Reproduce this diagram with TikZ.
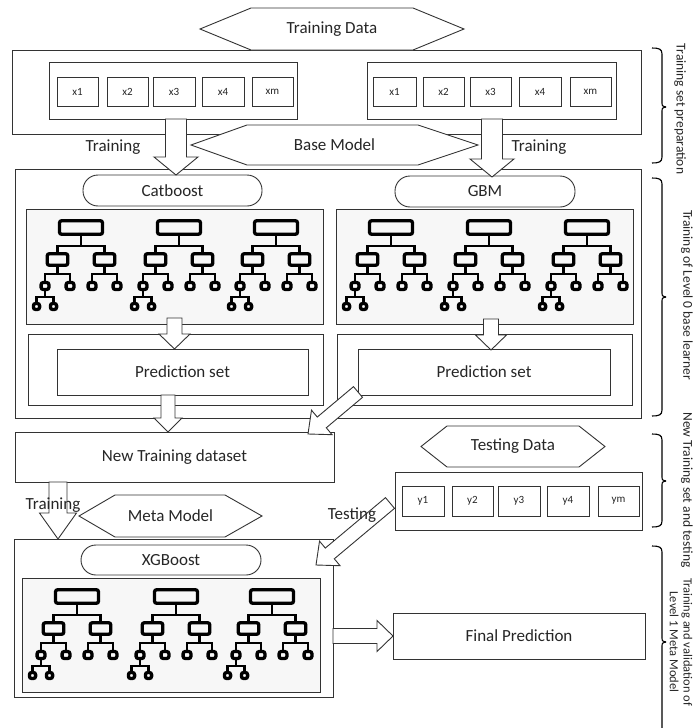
\documentclass[tikz,border=0pt]{standalone}
\usepackage{fontspec}
\setmainfont{Carlito}
\usetikzlibrary{calc}

\newcommand\mainsize{\fontsize{17}{20}\selectfont}
\newcommand\cellsize{\fontsize{11}{13}\selectfont}
\newcommand\sidesize{\fontsize{13.5}{17}\selectfont}
\newcommand\sidesmall{\fontsize{12.5}{13.8}\selectfont}

\tikzset{
  every node/.style={inner sep=0pt, outer sep=0pt, text=black!85},
  frame/.style={draw=black!80, line width=0.9pt},
  box/.style={frame, fill=white, font=\mainsize},
  panel/.style={frame, fill=black!3},
  cell/.style={box, font=\cellsize},
  capsule/.style={box, rounded corners=15pt},
  arrowbox/.style={draw=black!80, line width=0.9pt, fill=white, line join=miter},
  treebox/.style={draw=black, line width=3.3pt, rounded corners=2.2pt},
  treeline/.style={draw=black, line width=2.5pt},
  bracepath/.style={draw=black, line width=1.1pt},
  sidelabel/.style={rotate=-90, font=\sidesize, align=center},
  tree/.pic={
    % root
    \draw[treebox] (-21.5,1.7) rectangle (21.5,15.3);
    \draw[treeline] (0,15.3) -- (0,27);
    \draw[treeline] (-23.5,34.5) -- (-23.5,27) -- (23.5,27) -- (23.5,34.5);
    % second level
    \foreach \c in {-23.5,23.5}{
      \draw[treebox] (\c-10.3,34.7) rectangle (\c+10.3,46.3);
      \draw[treeline] (\c,46.3) -- (\c,55);
      \draw[treeline] (\c-12.5,63) -- (\c-12.5,55) -- (\c+12.5,55) -- (\c+12.5,63);
      \foreach \d in {-12.5,12.5}{
        \draw[treebox] (\c+\d-3.9,63.5) rectangle (\c+\d+3.9,70.5);
      }
    }
    % fourth level under the leftmost leaf
    \draw[treeline] (-36,70.5) -- (-36,78);
    \draw[treeline] (-44.5,84.3) -- (-44.5,78) -- (-27.5,78) -- (-27.5,84.3);
    \foreach \e in {-44.5,-27.5}{
      \draw[treebox] (\e-3.1,84.5) rectangle (\e+3.1,90.5);
    }
  }
}

% [style]{name}{x1}{y1}{x2}{y2}{text}
\newcommand\rectnode[7][box]{%
  \pgfmathsetmacro\rw{#5-#3}\pgfmathsetmacro\rh{#6-#4}%
  \pgfmathsetmacro\rcx{(#3+#5)/2}\pgfmathsetmacro\rcy{(#4+#6)/2}%
  \node[#1, minimum width=\rw pt, minimum height=\rh pt] (#2) at (\rcx,\rcy) {#7};}

% {name}{left tip}{top-left x}{top-right x}{right tip}{top y}{bottom y}{text}
\newcommand\hexnode[8]{%
  \pgfmathsetmacro\hym{(#6+#7)/2}\pgfmathsetmacro\hxm{(#2+#5)/2}%
  \draw[frame, fill=white] (#2,\hym) -- (#3,#6) -- (#4,#6) -- (#5,\hym) -- (#4,#7) -- (#3,#7) -- cycle;
  \node[font=\mainsize] (#1) at (\hxm,\hym) {#8};}

% {from}{to}{shaft half width}{head half width}{head length}
\newcommand\blockarrow[5]{%
  \coordinate (ban) at ($(#2)!#5!(#1)$);
  \draw[arrowbox] ($(#1)!#3!90:(#2)$) -- ($(ban)!#3!-90:(#1)$) -- ($(ban)!#4!-90:(#1)$)
    -- (#2) -- ($(ban)!#4!90:(#1)$) -- ($(ban)!#3!90:(#1)$) -- ($(#1)!#3!-90:(#2)$) -- cycle;}

% {top}{middle}{bottom}
\newcommand\sidebrace[3]{%
  \draw[bracepath] (652,#1) .. controls (659,#1) and (662,#1+1) .. (662,#1+6) -- (662,#2-5)
    .. controls (662,#2-1) .. (666,#2);
  \draw[bracepath] (666,#2) .. controls (662,#2+1) .. (662,#2+5) -- (662,#3-6)
    .. controls (662,#3-1) and (659,#3) .. (652,#3);}

\begin{document}
\begin{tikzpicture}[x=1pt,y=-1pt]
\useasboundingbox (0,0) rectangle (694,728);
\fill[white] (0,0) rectangle (694,728);

% ---------- training set preparation ----------
\rectnode{prep}{12}{50}{641}{134}{}
\hexnode{trainData}{200}{251}{413}{464}{8}{50}{Training Data}
\rectnode{setL}{49}{62}{297}{119}{}
\rectnode[cell]{xa1}{57}{77}{98}{106}{x1}
\rectnode[cell]{xa2}{107}{77}{148}{106}{x2}
\rectnode[cell]{xa3}{153}{77}{195}{106}{x3}
\rectnode[cell]{xa4}{202}{77}{244}{106}{x4}
\rectnode[cell]{xam}{252}{77}{293}{106}{xm}
\rectnode{setR}{367}{62}{616}{119}{}
\rectnode[cell]{xb1}{373}{77}{416}{106}{x1}
\rectnode[cell]{xb2}{423}{77}{464}{106}{x2}
\rectnode[cell]{xb3}{470}{77}{511}{106}{x3}
\rectnode[cell]{xb4}{519}{77}{561}{106}{x4}
\rectnode[cell]{xbm}{570}{77}{611}{106}{xm}

% ---------- level 0 base learners ----------
\rectnode{level0}{15}{169}{641}{418}{}
\hexnode{baseModel}{191}{247}{418}{478}{125}{165}{Base Model}
\rectnode[capsule]{catboost}{83}{175}{262}{206}{Catboost}
\rectnode[capsule]{gbm}{395}{176}{575}{207}{GBM}
\rectnode[panel]{treesL}{26}{209}{323}{324}{}
\rectnode[panel]{treesR}{336}{209}{633}{324}{}
\pic at (81,219) {tree};
\pic at (179,219) {tree};
\pic at (276,219) {tree};
\pic at (391,219) {tree};
\pic at (489,219) {tree};
\pic at (587,219) {tree};
\rectnode{predOutL}{28}{334}{323}{405}{}
\rectnode{predL}{57}{349}{308}{395}{Prediction set}
\rectnode{predOutR}{337}{334}{632}{405}{}
\rectnode{predR}{358}{349}{610}{395}{Prediction set}

\coordinate (a1s) at (176,119);  \coordinate (a1e) at (176,175);
\coordinate (a2s) at (492,119);  \coordinate (a2e) at (492,177);
\blockarrow{a1s}{a1e}{10.5pt}{22pt}{18pt}
\blockarrow{a2s}{a2e}{10.5pt}{22pt}{18pt}
\coordinate (a3s) at (174.5,318); \coordinate (a3e) at (174.5,349);
\coordinate (a4s) at (491,319);   \coordinate (a4e) at (491,350);
\blockarrow{a3s}{a3e}{7.5pt}{15.5pt}{15pt}
\blockarrow{a4s}{a4e}{7.5pt}{15.5pt}{15pt}

% ---------- new training set and testing ----------
\rectnode{newTrain}{15}{432}{334}{482}{New Training dataset}
\coordinate (a5s) at (168,395); \coordinate (a5e) at (168,432);
\blockarrow{a5s}{a5e}{7pt}{14pt}{14pt}
\coordinate (a6s) at (358,392); \coordinate (a6e) at (308,434);
\blockarrow{a6s}{a6e}{7pt}{16pt}{18pt}

\hexnode{testData}{421}{447}{579}{605}{426}{467}{Testing Data}
\rectnode{testSet}{395}{472}{642}{530}{}
\rectnode[cell]{y1}{402}{486}{444}{516}{y1}
\rectnode[cell]{y2}{452}{486}{493}{516}{y2}
\rectnode[cell]{y3}{498}{486}{540}{516}{y3}
\rectnode[cell]{y4}{547}{486}{589}{516}{y4}
\rectnode[cell]{ym}{598}{486}{639}{516}{ym}

% ---------- level 1 meta model ----------
\hexnode{metaModel}{79}{115}{225}{262}{495}{537}{Meta Model}
\rectnode{level1}{14}{539}{333}{697}{}
\rectnode[capsule]{xgboost}{81}{545}{261}{575}{XGBoost}
\rectnode[panel]{treesM}{22}{578}{320}{692}{}
\pic at (77,588) {tree};
\pic at (176,588) {tree};
\pic at (272,588) {tree};
\rectnode{final}{393}{613}{645}{659}{Final Prediction}

\coordinate (a7s) at (58,482); \coordinate (a7e) at (58,539);
\blockarrow{a7s}{a7e}{9pt}{18.5pt}{26pt}
\coordinate (a8s) at (390,503); \coordinate (a8e) at (316,565);
\blockarrow{a8s}{a8e}{7pt}{16pt}{18pt}
\coordinate (a9s) at (333,636); \coordinate (a9e) at (393,636);
\blockarrow{a9s}{a9e}{7.5pt}{15.5pt}{16pt}

% ---------- arrow labels ----------
\node[font=\mainsize] (lblTrainL) at (113,147) {Training};
\node[font=\mainsize] (lblTrainR) at (539,147) {Training};
\node[font=\mainsize] (lblTrainM) at (53,505) {Training};
\node[font=\mainsize] (lblTest) at (352,515) {Testing};

% ---------- stage braces ----------
\sidebrace{48}{107}{163}
\sidebrace{178}{297}{416}
\sidebrace{434}{481}{527}
\sidebrace{546}{642}{760}
\node[sidelabel] (stage1) at (680,109) {Training set preparation};
\node[sidelabel] (stage2) at (687,295) {Training of Level 0 base learner};
\node[sidelabel] (stage3) at (687,490) {New Training set and testing};
\node[sidelabel, font=\sidesmall] (stage4) at (681,642) {Training and validation of\\Level 1 Meta Model};
\end{tikzpicture}
\end{document}
